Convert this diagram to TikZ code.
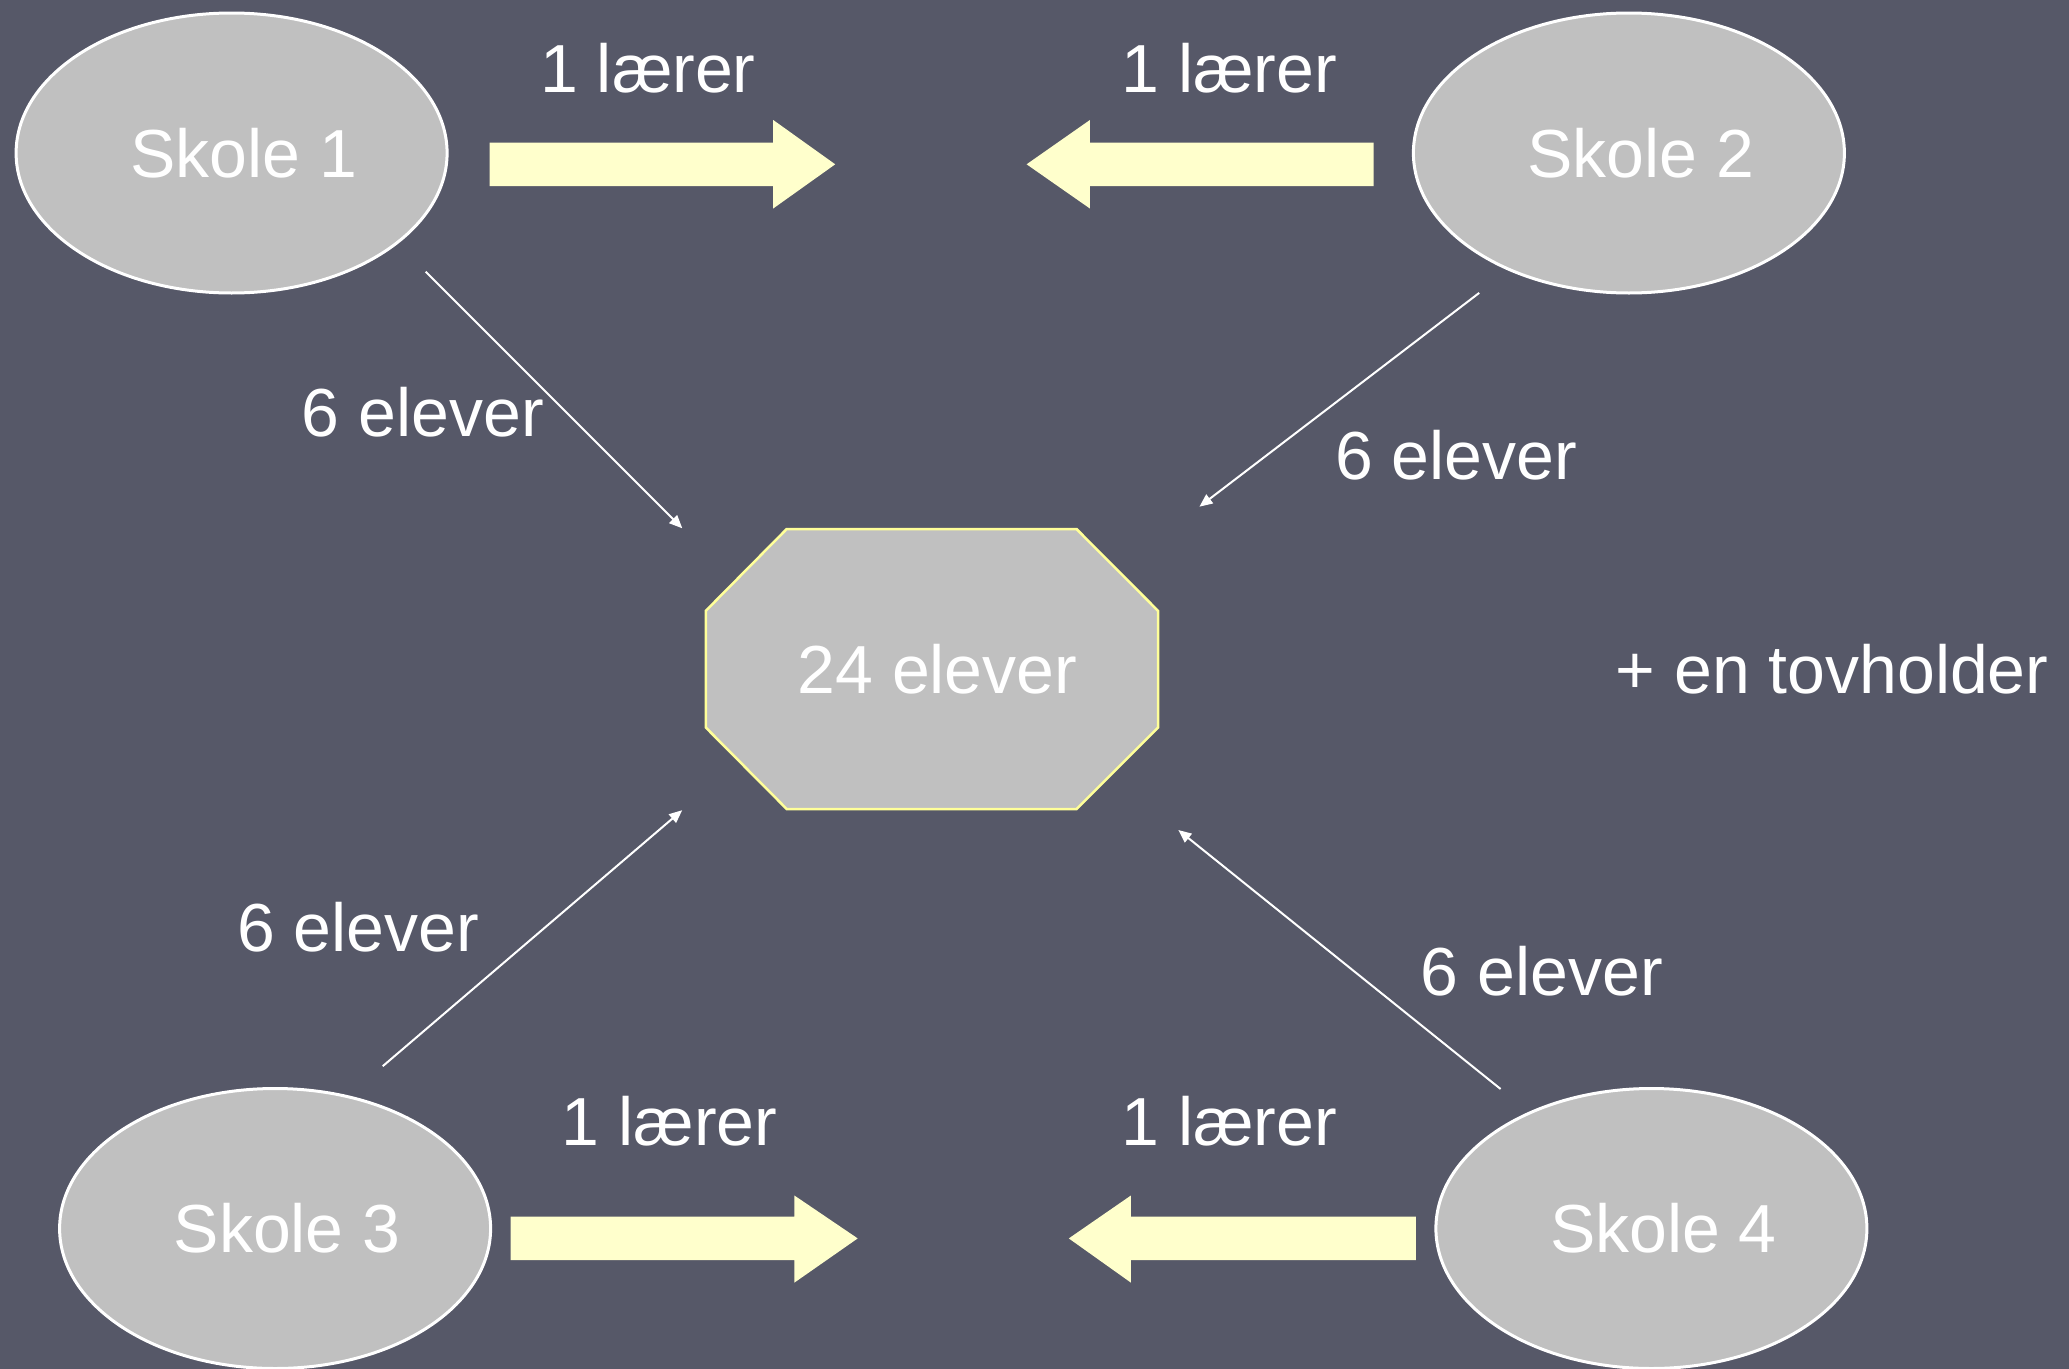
\documentclass[tikz,border=0pt]{standalone}
\usepackage{fontspec}
\setmainfont{Liberation Sans}
\usetikzlibrary{shapes.geometric,arrows.meta}
\definecolor{bg}{RGB}{86,88,104}
\definecolor{silver}{RGB}{192,192,192}
\definecolor{arrowfill}{RGB}{255,255,204}
\definecolor{octline}{RGB}{255,255,153}
\tikzset{
  school/.style={ellipse,draw=white,line width=3pt,fill=silver,minimum width=431pt,minimum height=280pt,inner sep=0pt},
  schoollabel/.style={text=white,font=\fontsize{68}{80}\selectfont,inner sep=0pt},
  lbl/.style={text=white,font=\fontsize{68}{80}\selectfont,inner sep=0pt},
  blockarrow/.style={fill=arrowfill,draw=none},
  flow/.style={draw=white,line width=2pt,-{Triangle[length=13pt,width=11pt]}},
  octo/.style={fill=silver,draw=octline,line width=2.5pt}
}
\begin{document}
\begin{tikzpicture}[x=1pt,y=-1pt]
\useasboundingbox (0,0) rectangle (2069,1368);
\fill[bg] (-10,-10) rectangle (2079,1378);

% schools
\node[school] (s1) at (231.6,153) {};
\node[school] (s2) at (1628.9,153) {};
\node[school] (s3) at (275.1,1228.5) {};
\node[school] (s4) at (1651.4,1228.5) {};
\node[schoollabel] (s1t) at ([xshift=12pt]s1.center) {Skole 1};
\node[schoollabel] (s2t) at ([xshift=12pt]s2.center) {Skole 2};
\node[schoollabel] (s3t) at ([xshift=12pt]s3.center) {Skole 3};
\node[schoollabel] (s4t) at ([xshift=12pt]s4.center) {Skole 4};

% central octagon
\draw[octo] (786.7,529) -- (1076.5,529) -- (1158,610.8) -- (1158,727.5) -- (1076.5,809) -- (786.7,809) -- (705.8,727.5) -- (705.8,610.8) -- cycle;
\node[lbl] (c) at (937.5,669) {24 elever};
\node[lbl] (tov) at (1832.1,669) {+ en tovholder};

% block arrows
\path[blockarrow] (489.5,142.5) -- (773.2,142.5) -- (773.2,120) -- (835.2,164.3) -- (773.2,208.5) -- (773.2,186) -- (489.5,186) -- cycle;
\path[blockarrow] (1373.6,142.5) -- (1089.9,142.5) -- (1089.9,120) -- (1026.6,164.3) -- (1089.9,208.5) -- (1089.9,186) -- (1373.6,186) -- cycle;
\path[blockarrow] (510.7,1216.6) -- (794.4,1216.6) -- (794.4,1195.5) -- (857.7,1238.4) -- (794.4,1282.6) -- (794.4,1260.1) -- (510.7,1260.1) -- cycle;
\path[blockarrow] (1415.8,1216.6) -- (1130.9,1216.6) -- (1130.9,1195.5) -- (1068.8,1238.4) -- (1130.9,1282.6) -- (1130.9,1260.1) -- (1415.8,1260.1) -- cycle;

\node[lbl] (l1) at (648,68.6) {1 lærer};
\node[lbl] (l2) at (1229.1,68.6) {1 lærer};
\node[lbl] (l3) at (669.6,1121.6) {1 lærer};
\node[lbl] (l4) at (1229.1,1121.6) {1 lærer};

% student flows
\coordinate (f1a) at (425.7,271.7);
\coordinate (f1b) at (682.3,528.3);
\coordinate (f2a) at (1479.2,292.9);
\coordinate (f2b) at (1199.4,506.7);
\coordinate (f3a) at (382.7,1066.2);
\coordinate (f3b) at (682.2,810.2);
\coordinate (f4a) at (1500.6,1089);
\coordinate (f4b) at (1178.3,830);
\draw[flow] (f1a) -- (f1b);
\draw[flow] (f2a) -- (f2b);
\draw[flow] (f3a) -- (f3b);
\draw[flow] (f4a) -- (f4b);

\node[lbl] (e1) at (422.9,411.7) {6 elever};
\node[lbl] (e2) at (1456.1,455.2) {6 elever};
\node[lbl] (e3) at (358.2,927.6) {6 elever};
\node[lbl] (e4) at (1541.8,971.2) {6 elever};
\end{tikzpicture}
\end{document}
